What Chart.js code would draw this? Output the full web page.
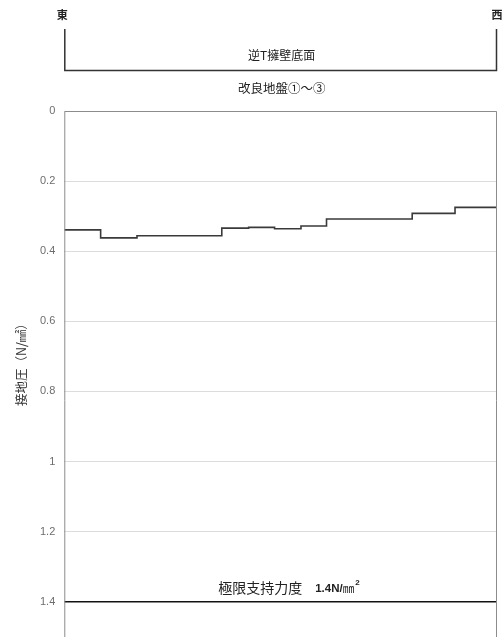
<!DOCTYPE html>
<html><head><meta charset="utf-8">
<script src="https://cdn.jsdelivr.net/npm/chart.js@4"></script>
<style>html,body{margin:0;padding:0;background:#fff;overflow:hidden}canvas{display:block}</style>
</head><body>
<canvas id="c" width="503" height="705"></canvas>
<script>
// Segment starts along the wall base (0 = 東, 100 = 西), last entry is the west end
const positions = [0, 8.4, 16.8, 36.4, 42.6, 48.6, 54.7, 60.6, 80.4, 90.3, 100];
// Contact pressure of each segment (N/mm2); last value repeats to close the final step
const pressures = [0.339, 0.362, 0.356, 0.334, 0.332, 0.336, 0.328, 0.308, 0.292, 0.275, 0.275];
const limitX = [0, 100];
const limitY = [1.4, 1.4];
const yTicks = [0, 0.2, 0.4, 0.6, 0.8, 1, 1.2, 1.4];
const yTitle = '接地圧（N/㎟）';
const labelEast = '東', labelWest = '西';
const labelBase = '逆T擁壁底面', labelGround = '改良地盤①～③';
const limitLabelJp = '極限支持力度';
const limitLabelNum = '1.4N/';
const limitLabelUnit = '㎜';

const JP = '"Noto Sans CJK JP", "Liberation Sans", sans-serif';
const LS = '"Liberation Sans", Arial, sans-serif';

const annot = {
  id: 'annot',
  afterDraw(chart) {
    const {ctx, chartArea: a, scales: {x, y}} = chart;
    ctx.save();
    // frame
    ctx.strokeStyle = '#8c8c8c'; ctx.lineWidth = 1;
    ctx.beginPath();
    ctx.moveTo(a.left + 0.5, a.bottom); ctx.lineTo(a.left + 0.5, a.top + 0.5);
    ctx.lineTo(a.right - 0.5, a.top + 0.5); ctx.lineTo(a.right - 0.5, a.bottom);
    ctx.stroke();
    // bracket above
    ctx.strokeStyle = '#333'; ctx.lineWidth = 1.5;
    ctx.beginPath();
    ctx.moveTo(a.left + 0.5, 29); ctx.lineTo(a.left + 0.5, 70.5);
    ctx.lineTo(a.right - 0.5, 70.5); ctx.lineTo(a.right - 0.5, 29);
    ctx.stroke();
    ctx.fillStyle = '#222';
    ctx.textAlign = 'center'; ctx.textBaseline = 'middle';
    ctx.font = 'bold 11px ' + JP;
    ctx.fillText(labelEast, a.left - 2, 15);
    ctx.fillText(labelWest, a.right, 15);
    ctx.font = '12px ' + JP;
    const mid = (a.left + a.right) / 2;
    ctx.fillText(labelBase, mid + 1, 55);
    ctx.font = '12.5px ' + JP;
    ctx.fillText(labelGround, mid + 1, 88);
    // y axis title
    ctx.save();
    ctx.translate(21, y.getPixelForValue(0.715));
    ctx.rotate(-Math.PI / 2);
    ctx.font = '12.5px ' + JP;
    ctx.fillStyle = '#333';
    ctx.fillText(yTitle, 0, 0);
    ctx.restore();
    // limit label
    const ly = y.getPixelForValue(limitY[0]) - 14;
    ctx.textAlign = 'left';
    ctx.font = '14px ' + JP;
    const w1 = ctx.measureText(limitLabelJp).width;
    ctx.font = 'bold 11.5px ' + LS;
    const w2 = ctx.measureText(limitLabelNum).width;
    ctx.font = '11.5px ' + JP;
    const w3 = ctx.measureText(limitLabelUnit).width;
    const gap = 13;
    const total = w1 + gap + w2 + w3 + 5;
    let lx = mid + 8 - total / 2;
    ctx.font = '14px ' + JP;
    ctx.fillText(limitLabelJp, lx, ly);
    lx += w1 + gap;
    ctx.font = 'bold 11.5px ' + LS;
    ctx.fillText(limitLabelNum, lx, ly + 1);
    lx += w2;
    ctx.font = '11.5px ' + JP;
    ctx.fillText(limitLabelUnit, lx, ly + 1);
    ctx.font = 'bold 8px ' + LS;
    ctx.fillText('2', lx + w3 + 1, ly - 5);
    ctx.restore();
  }
};

new Chart(document.getElementById('c'), {
  type: 'line',
  data: {
    datasets: [
      {
        data: positions.map((p, i) => ({x: p, y: pressures[i]})),
        stepped: 'before', borderColor: '#3a3a3a', borderWidth: 1.6,
        pointRadius: 0, fill: false
      },
      {
        data: limitX.map((p, i) => ({x: p, y: limitY[i]})),
        borderColor: '#111', borderWidth: 1.3, pointRadius: 0, fill: false
      }
    ]
  },
  options: {
    responsive: false, animation: false,
    layout: {padding: {top: 111, right: 6, left: 31, bottom: 0}},
    plugins: {legend: {display: false}, tooltip: {enabled: false}},
    scales: {
      x: {type: 'linear', min: 0, max: 100, display: false},
      y: {
        reverse: true, min: 0, max: 1.65,
        afterBuildTicks: s => { s.ticks = yTicks.map(v => ({value: v})); },
        ticks: {color: '#6e6e6e', font: {size: 11, family: LS}, padding: 9,
          callback: v => String(v)},
        grid: {color: '#dcdcdc', lineWidth: 1, drawTicks: false},
        border: {display: false},
        title: {display: false}
      }
    }
  },
  plugins: [annot]
});
</script>
</body></html>
